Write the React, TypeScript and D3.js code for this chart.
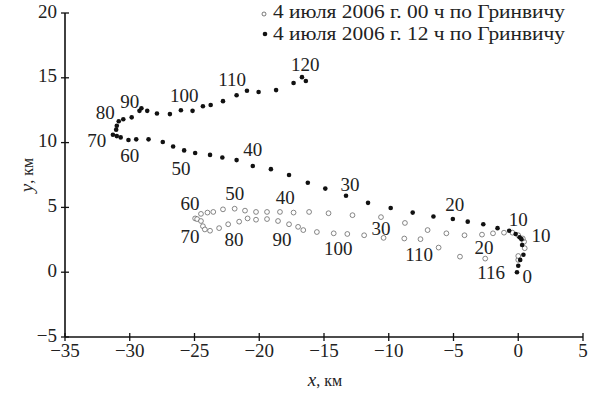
import React from 'react';
import * as d3 from 'd3';

// track at 12 h UTC (filled dots), km
const FILLED_X = [-0.1, 0.0, 0.15, 0.4, 0.3, 0.25, 0.1, -0.2, -0.7, -1.6, -2.7, -3.9, -5.05, -6.55, -8.15, -9.85, -11.6, -13.3, -14.9, -16.25, -17.7, -19.1, -20.5, -21.75, -22.85, -23.8, -24.95, -25.8, -26.65, -27.45, -28.55, -29.5, -30.1, -30.7, -31.0, -31.3, -31.05, -31.0, -30.85, -30.5, -29.85, -29.25, -29.1, -28.65, -27.9, -26.9, -26.05, -25.15, -24.35, -23.75, -22.8, -21.75, -20.95, -20.05, -18.7, -17.35, -16.7, -16.4];
const FILLED_Y = [0.0, 0.5, 0.95, 1.35, 2.1, 2.55, 2.7, 2.95, 3.2, 3.4, 3.7, 3.9, 4.1, 4.3, 4.6, 4.95, 5.35, 5.9, 6.45, 6.9, 7.5, 7.95, 8.2, 8.65, 8.85, 9.05, 9.2, 9.4, 9.7, 10.05, 10.25, 10.25, 10.2, 10.4, 10.5, 10.6, 11.0, 11.3, 11.65, 11.8, 11.95, 12.45, 12.65, 12.45, 12.25, 12.2, 12.5, 12.45, 12.8, 12.9, 13.2, 13.65, 14.0, 13.9, 14.05, 14.6, 15.05, 14.75];

// track at 00 h UTC (open circles), km
const OPEN_X = [0.0, 0.0, 0.5, 0.45, 0.35, 0.0, -0.45, -1.1, -1.95, -2.8, -4.15, -5.55, -7.0, -8.75, -10.6, -12.8, -14.65, -16.15, -17.35, -18.4, -19.4, -20.25, -21.1, -21.9, -22.8, -23.55, -24.0, -24.5, -24.95, -24.8, -24.5, -24.35, -24.2, -23.8, -23.1, -22.4, -21.55, -20.9, -20.25, -19.4, -18.55, -17.7, -17.0, -16.6, -15.55, -14.25, -13.2, -11.9, -10.4, -8.8, -7.55, -6.15, -4.5, -2.55];
const OPEN_Y = [0.95, 1.25, 1.85, 2.35, 2.6, 2.85, 3.05, 3.05, 3.0, 2.9, 2.85, 3.0, 3.25, 3.8, 4.25, 4.4, 4.55, 4.65, 4.6, 4.65, 4.65, 4.65, 4.75, 4.9, 4.85, 4.65, 4.6, 4.5, 4.15, 4.1, 3.95, 3.55, 3.3, 3.2, 3.4, 3.7, 3.9, 4.15, 4.05, 4.1, 3.95, 3.7, 3.5, 3.25, 3.1, 3.0, 2.95, 2.85, 2.65, 2.6, 2.55, 1.9, 1.2, 1.05];

// time labels (minutes) and where they sit, km
const FILLED_LABELS = ['0', '10', '20', '30', '40', '50', '60', '70', '80', '90', '100', '110', '120'];
const FILLED_LABEL_X = [0.7, 0.0, -4.9, -13.0, -20.5, -26.05, -30.0, -32.55, -31.9, -30.0, -25.8, -22.1, -16.45];
const FILLED_LABEL_Y = [-0.3, 4.05, 5.25, 6.8, 9.45, 8.05, 9.05, 10.2, 12.35, 13.2, 13.65, 14.85, 16.05];

const OPEN_LABELS = ['10', '20', '30', '40', '50', '60', '70', '80', '90', '100', '110', '116'];
const OPEN_LABEL_X = [1.75, -2.65, -10.6, -18.0, -21.9, -25.35, -25.35, -21.95, -18.25, -13.9, -7.65, -2.1];
const OPEN_LABEL_Y = [2.85, 1.95, 3.4, 5.75, 6.05, 5.35, 2.8, 2.55, 2.55, 1.85, 1.4, 0.0];

const X_TICKS = [-35, -30, -25, -20, -15, -10, -5, 0, 5];
const Y_TICKS = [-5, 0, 5, 10, 15, 20];
const LEGEND = ['4 июля 2006 г. 00 ч по Гринвичу', '4 июля 2006 г. 12 ч по Гринвичу'];

const FONT = '"Liberation Serif", "Times New Roman", serif';
const fmt = (v: number) => (v < 0 ? '\u2212' + Math.abs(v) : String(v));

export default function App() {
  const x = d3.scaleLinear().domain([-35, 5]).range([65, 583]);
  const y = d3.scaleLinear().domain([-5, 20]).range([337, 13]);

  return (
    <svg width={600} height={399} style={{ position: 'absolute', left: 0, top: 0, background: '#fff', fontFamily: FONT }}>
      {/* axes */}
      <line x1={x(-35)} x2={x(5)} y1={y(-5)} y2={y(-5)} stroke="#111" strokeWidth={1.6} />
      <line x1={x(-35)} x2={x(-35)} y1={y(-5)} y2={y(20)} stroke="#111" strokeWidth={1.6} />
      {X_TICKS.map((t) => (
        <g key={'xt' + t}>
          <line x1={x(t)} x2={x(t)} y1={y(-5) - 4} y2={y(-5) + 4} stroke="#111" strokeWidth={1.3} />
          <text x={x(t)} y={y(-5) + 20} textAnchor="middle" fontSize={19} fill="#222">{fmt(t)}</text>
        </g>
      ))}
      {Y_TICKS.map((t) => (
        <g key={'yt' + t}>
          <line x1={x(-35) - 4} x2={x(-35) + 4} y1={y(t)} y2={y(t)} stroke="#111" strokeWidth={1.3} />
          <text x={x(-35) - 8} y={y(t) - 2} dy="0.35em" textAnchor="end" fontSize={19} fill="#222">{fmt(t)}</text>
        </g>
      ))}

      {/* axis titles */}
      <text x={325} y={386} textAnchor="middle" fontSize={19} fill="#222">
        <tspan fontStyle="italic">x</tspan>
        <tspan fontSize={16}>, км</tspan>
      </text>
      <text transform="translate(33,175) rotate(-90)" textAnchor="middle" fontSize={19} fill="#222">
        <tspan fontStyle="italic">y</tspan>
        <tspan fontSize={16}>, км</tspan>
      </text>

      {/* series */}
      {OPEN_X.map((v, i) => (
        <circle key={'o' + i} cx={x(v)} cy={y(OPEN_Y[i])} r={2.4} fill="#fff" stroke="#555" strokeWidth={0.7} />
      ))}
      {FILLED_X.map((v, i) => (
        <circle key={'f' + i} cx={x(v)} cy={y(FILLED_Y[i])} r={2.3} fill="#111" />
      ))}

      {/* time labels */}
      {FILLED_LABELS.map((s, i) => (
        <text key={'fl' + i} x={x(FILLED_LABEL_X[i])} y={y(FILLED_LABEL_Y[i])} dy="0.35em" textAnchor="middle" fontSize={19} fill="#222">{s}</text>
      ))}
      {OPEN_LABELS.map((s, i) => (
        <text key={'ol' + i} x={x(OPEN_LABEL_X[i])} y={y(OPEN_LABEL_Y[i])} dy="0.35em" textAnchor="middle" fontSize={19} fill="#222">{s}</text>
      ))}

      {/* legend */}
      <circle cx={264} cy={14} r={2} fill="#fff" stroke="#444" strokeWidth={0.7} />
      <text x={273} y={18} fontSize={18.5} fill="#222" textLength={292} lengthAdjust="spacingAndGlyphs">{LEGEND[0]}</text>
      <circle cx={265} cy={34} r={2.3} fill="#111" />
      <text x={273} y={40} fontSize={18.5} fill="#222" textLength={292} lengthAdjust="spacingAndGlyphs">{LEGEND[1]}</text>
    </svg>
  );
}
